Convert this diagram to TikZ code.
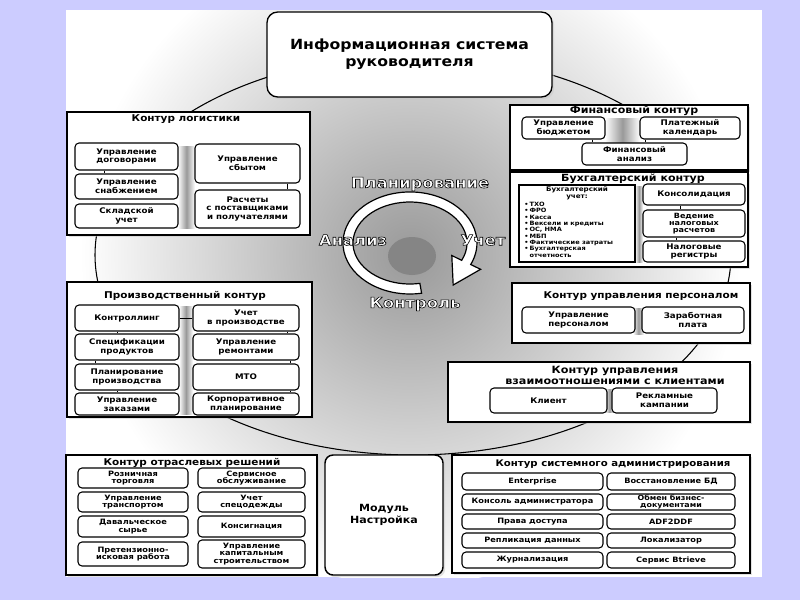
\documentclass[tikz,border=0pt]{standalone}
\usepackage{fontspec}
\setmainfont{DejaVu Sans}
\newfontfamily\dvb{DejaVu Sans Bold}[FakeStretch=1.12]
\usetikzlibrary{shadows}
\definecolor{bgblue}{RGB}{204,204,255}
\newcommand\fsz[2]{\fontsize{#1}{#2}\selectfont}
\newcommand\itm[1]{\makebox[0.9em][l]{•}#1}
\newcommand\outltext[1]{\special{pdf:literal direct 2 Tr 0.45 w 0 G}#1\special{pdf:literal direct 0 Tr}}
\tikzset{
  wh/.style 2 args={minimum width=#1*0.75pt, minimum height=#2*0.75pt},
  shd/.style={drop shadow={shadow xshift=1.6pt, shadow yshift=-1.6pt, fill=black!22}},
  obox/.style={draw, line width=1.1pt, fill=white, shd, inner sep=0pt},
  topbox/.style={draw, line width=1pt, rounded corners=8pt, fill=white, shd, align=center, inner sep=0pt, font=\dvb\fsz{10.5}{13}},
  modbox/.style={draw, line width=1.1pt, rounded corners=6pt, fill=white, shd, align=center, inner sep=0pt, font=\dvb\fsz{7.4}{9.5}},
  ibox/.style={draw, line width=0.8pt, rounded corners=3pt, fill=white, align=center, inner sep=0pt, font=\dvb\fsz{5.8}{6.6}},
  isb/.style={ibox, font=\dvb\fsz{5.5}{5.7}},
  ttl/.style={font=\dvb\fsz{7}{8}, inner sep=0pt, align=center},
  cyc/.style={font=\dvb\fsz{11}{12}, text=white, inner sep=0pt},
  tk/.style={line width=0.6pt},
  strip/.style={left color=white, right color=white, middle color=black!40},
}
\begin{document}
\begin{tikzpicture}[x=0.75pt,y=-0.75pt]
\fill[bgblue] (0,0) rectangle (800,600);
\useasboundingbox (0,0) rectangle (800,600);
\fill[white] (66,10) rectangle (762,577);
\begin{scope}
  \clip (66,10) rectangle (762,577);
  \shade[inner color=black!40, outer color=white] (410,255) circle [radius=330];
\end{scope}
% big ellipse
\draw[line width=0.8pt] (413,255) ellipse [x radius=318, y radius=200];
% centre and cycle arrow
\fill[black!48] (412,256) ellipse [x radius=24, y radius=19];
\draw[line width=0.9pt, fill=white] (421.6,293.2) arc[start angle=80, end angle=385, x radius=67, y radius=51]
  -- (480.6,269.3) -- (453.2,285) -- (451.8,255.5) -- (461.66,260.33)
  arc[start angle=385, end angle=80, x radius=57, y radius=41] -- cycle;

% top box
\node[topbox, wh={285}{85}] (isr) at (409.5,54.5) {Информационная система\\руководителя};

% logistics
\node[obox, wh={243}{123}] (lg) at (188.5,173.5) {};
\node[ttl] (lgt) at (186,119) {Контур логистики};
\shade[strip] (178,146) rectangle (195,228);
\node[ibox, wh={103}{27}] (lg1) at (126.5,156.5) {Управление\\договорами};
\node[ibox, wh={103}{25}] (lg2) at (126.5,186.5) {Управление\\снабжением};
\node[ibox, wh={103}{24}] (lg3) at (126.5,216) {Складской\\учет};
\node[ibox, wh={105}{39}] (lg4) at (247.5,163.5) {Управление\\сбытом};
\node[ibox, wh={105}{38}] (lg5) at (247.5,209) {Расчеты\\с поставщиками\\и получателями};
\draw[tk] (lg1.south -| 104,0) -- (lg2.north -| 104,0);
\draw[tk] (lg4.south -| 287,0) -- (lg5.north -| 287,0);

% production
\node[obox, wh={245}{135}] (pr) at (189.5,349.5) {};
\node[ttl] (prt) at (185,295.5) {Производственный контур};
\shade[strip] (179,306) rectangle (193,414);
\node[ibox, wh={104}{26}] (pr1) at (127,318) {Контроллинг};
\node[ibox, wh={104}{26}] (pr2) at (127,347) {Спецификации\\продуктов};
\node[ibox, wh={104}{26}] (pr3) at (127,377) {Планирование\\производства};
\node[ibox, wh={104}{22}] (pr4) at (127,404) {Управление\\заказами};
\node[ibox, wh={106}{26}] (pr5) at (246,318) {Учет\\в производстве};
\node[ibox, wh={106}{26}] (pr6) at (246,347) {Управление\\ремонтами};
\node[ibox, wh={106}{26}] (pr7) at (246,377) {МТО};
\node[ibox, wh={106}{22}] (pr8) at (246,404) {Корпоративное\\планирование};
\draw[tk] (pr1.east |- 0,318) -- (pr5.west |- 0,318);
\draw[tk] (pr1.south -| 117,0) -- (pr2.north -| 117,0);
\draw[tk] (pr2.south -| 95,0) -- (pr3.north -| 95,0);
\draw[tk] (pr3.south -| 117,0) -- (pr4.north -| 117,0);
\draw[tk] (pr5.south -| 287,0) -- (pr6.north -| 287,0);
\draw[tk] (pr6.south -| 290,0) -- (pr7.north -| 290,0);
\draw[tk] (pr7.south -| 290,0) -- (pr8.north -| 290,0);

% financial
\node[obox, wh={238}{65}] (fn) at (629,137.5) {};
\node[ttl, font=\dvb\fsz{7.4}{8}] (fnt) at (634,111) {Финансовый контур};
\shade[strip] (605,118) rectangle (640,160);
\node[ibox, wh={83}{22}] (fn1) at (563.5,128) {Управление\\бюджетом};
\node[ibox, wh={100}{22}] (fn2) at (690,128) {Платежный\\календарь};
\node[ibox, wh={105}{22}] (fn3) at (634.5,154) {Финансовый\\анализ};
\draw[tk] (fn1.south -| 592,0) -- (fn3.north -| 592,0);
\draw[tk] (fn2.south -| 645,0) -- (fn3.north -| 645,0);

% accounting
\node[obox, wh={238}{95}] (bu) at (629,219.5) {};
\node[ttl, font=\dvb\fsz{7.4}{8}] (but) at (633,179) {Бухгалтерский контур};
\shade[strip] (635,186) rectangle (643,262);
\node[draw, line width=0.8pt, fill=white, inner sep=0pt, wh={116}{77}] (bu1) at (577,223.5) {};
\node[font=\dvb\fsz{4.8}{5.4}, align=center, inner sep=0pt] (bu1h) at (577,193.5) {Бухгалтерский\\учет:};
\node[anchor=north west, font=\dvb\fsz{4.4}{4.75}, align=left, inner sep=0pt] (bu1l) at (524,202)
  {\itm{ТХО}\\\itm{ФРО}\\\itm{Касса}\\\itm{Вексели и кредиты}\\\itm{ОС, НМА}\\\itm{МБП}\\\itm{Фактические затраты}\\\itm{Бухгалтерская}\\\makebox[0.9em]{}отчетность};
\node[ibox, wh={102}{21}] (bu2) at (694,194.5) {Консолидация};
\node[ibox, wh={102}{27}, font=\dvb\fsz{5.4}{5.1}] (bu3) at (694,223.5) {Ведение\\налоговых\\расчетов};
\node[ibox, wh={102}{21}] (bu4) at (694,251.5) {Налоговые\\регистры};
\draw[tk] (bu2.south -| 680,0) -- (bu3.north -| 680,0);
\draw[tk] (bu3.south -| 676,0) -- (bu4.north -| 676,0);

% personnel
\node[obox, wh={238}{60}] (ps) at (631,313) {};
\node[ttl] (pst) at (641,296) {Контур управления персоналом};
\shade[strip] (633,308) rectangle (644,334);
\node[ibox, wh={113}{26}] (ps1) at (578.5,320) {Управление\\персоналом};
\node[ibox, wh={102}{26}] (ps2) at (693,320) {Заработная\\плата};

% CRM
\node[obox, wh={302}{60}] (cr) at (599,392) {};
\node[ttl, font=\dvb\fsz{7.5}{8.3}] (crt) at (615,375) {Контур управления\\взаимоотношениями с клиентами};
\shade[strip] (605,389) rectangle (614,412);
\node[ibox, wh={117}{25}] (cr1) at (548.5,400.5) {Клиент};
\node[ibox, wh={105}{25}] (cr2) at (664.5,400.5) {Рекламные\\кампании};

% industry
\node[obox, wh={251}{120}] (in) at (191.5,515) {};
\node[ttl] (int) at (192,463) {Контур отраслевых решений};
\node[isb, wh={110}{20}] (in1) at (133,478) {Розничная\\торговля};
\node[isb, wh={110}{20}] (in2) at (133,502) {Управление\\транспортом};
\node[isb, wh={110}{21}] (in3) at (133,526.5) {Давальческое\\сырье};
\node[isb, wh={110}{24}] (in4) at (133,554) {Претензионно-\\исковая работа};
\node[isb, wh={107}{20}] (in5) at (251.5,478) {Сервисное\\обслуживание};
\node[isb, wh={107}{20}] (in6) at (251.5,502) {Учет\\спецодежды};
\node[isb, wh={107}{21}] (in7) at (251.5,526.5) {Консигнация};
\node[isb, wh={107}{28}] (in8) at (251.5,554) {Управление\\капитальным\\строительством};

% module
\node[modbox, wh={118}{120}] (md) at (384,515) {Модуль\\Настройка};

% sysadmin
\node[obox, wh={298}{118}] (sa) at (601,514) {};
\node[ttl, font=\dvb\fsz{6.8}{8}] (sat) at (613,464) {Контур системного администрирования};
\node[isb, wh={141}{17}] (sa1) at (532.5,481.5) {Enterprise};
\node[isb, wh={141}{16}] (sa2) at (532.5,502) {Консоль администратора};
\node[isb, wh={141}{15}] (sa3) at (532.5,521.5) {Права доступа};
\node[isb, wh={141}{15}] (sa4) at (532.5,540.5) {Репликация данных};
\node[isb, wh={141}{16}] (sa5) at (532.5,560) {Журнализация};
\node[isb, wh={128}{17}] (sa6) at (671,481.5) {Восстановление БД};
\node[isb, wh={128}{16}, font=\dvb\fsz{5.3}{5}] (sa7) at (671,502) {Обмен бизнес-\\документами};
\node[isb, wh={128}{15}] (sa8) at (671,521.5) {ADF2DDF};
\node[isb, wh={128}{15}] (sa9) at (671,540.5) {Локализатор};
\node[isb, wh={128}{16}] (sa10) at (671,560) {Сервис Btrieve};

% cycle labels
\node[cyc] (pl) at (420,184) {\outltext{Планирование}};
\node[cyc] (an) at (353,240) {\outltext{Анализ}};
\node[cyc] (uc) at (483,240) {\outltext{Учет}};
\node[cyc] (ko) at (415,304) {\outltext{Контроль}};
\end{tikzpicture}
\end{document}
